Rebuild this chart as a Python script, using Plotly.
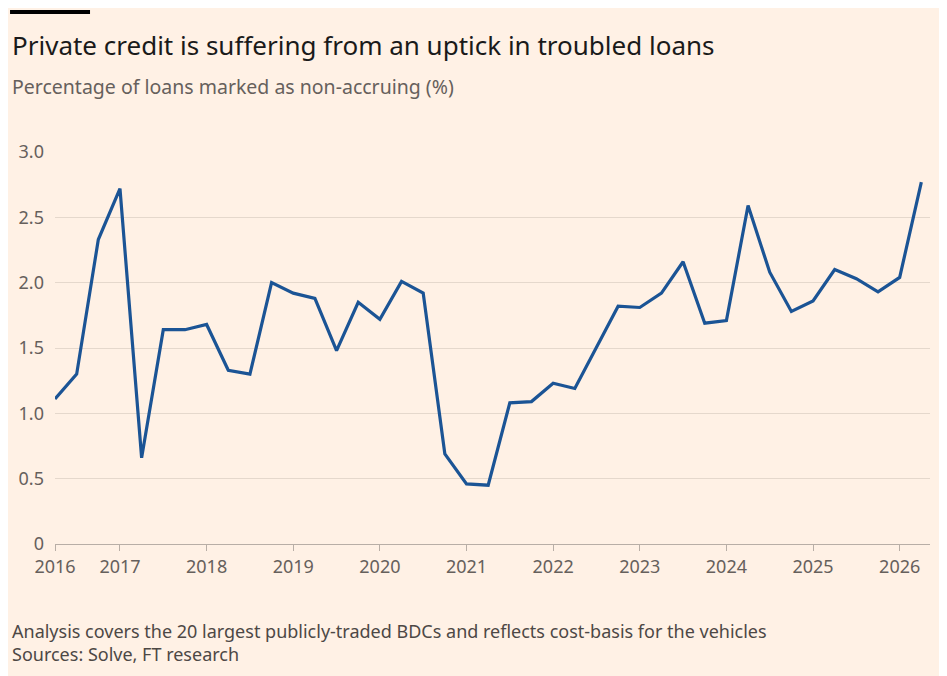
import plotly.graph_objects as go

# quarterly, starting 2016 Q2 (2016.25) through 2026 Q2
start = 2016.25
values = [1.11, 1.30, 2.33, 2.72, 0.66, 1.64, 1.64, 1.68, 1.33, 1.30, 2.00, 1.92,
          1.88, 1.48, 1.85, 1.72, 2.01, 1.92, 0.69, 0.46, 0.45, 1.08, 1.09, 1.23,
          1.19, 1.50, 1.82, 1.81, 1.92, 2.16, 1.69, 1.71, 2.59, 2.08, 1.78, 1.86,
          2.10, 2.03, 1.93, 2.04, 2.77]
x = [start + 0.25 * i for i in range(len(values))]

tick_vals = [2016.25] + list(range(2017, 2027))
tick_text = ["2016"] + [str(y) for y in range(2017, 2027)]
y_ticks = [0, 0.5, 1.0, 1.5, 2.0, 2.5, 3.0]
y_text = ["0", "0.5", "1.0", "1.5", "2.0", "2.5", "3.0"]

bg = "#FFF1E5"
font = "Noto Sans, Lato, sans-serif"
ph = 392.0  # plot height in px
left = -0.0514

fig = go.Figure()
fig.add_trace(go.Scatter(x=x, y=values, mode="lines",
                         line=dict(color="#1B5495", width=3.2), hoverinfo="x+y"))

fig.update_layout(
    width=947, height=676, paper_bgcolor=bg, plot_bgcolor=bg,
    margin=dict(l=47, r=25, t=144, b=140),
    showlegend=False,
    font=dict(family=font, color="#66605c", size=17),
    xaxis=dict(range=[2016.25, 2026.35], tickvals=tick_vals, ticktext=tick_text,
               showgrid=False, zeroline=False, showline=True, linecolor="#b8aea6",
               linewidth=1, ticks="outside", ticklen=6, tickcolor="#b8aea6",
               tickfont=dict(size=18, color="#66605c")),
    yaxis=dict(range=[0, 3.0], tickvals=y_ticks, ticktext=y_text,
               gridcolor="#e5d8cc", zeroline=False, ticks="", ticklabelstandoff=10,
               tickfont=dict(size=18, color="#66605c")),
    shapes=[dict(type="rect", xref="paper", yref="paper", x0=left, x1=left + 80 / 875,
                 y0=1.0 + 138 / ph, y1=1.0 + 142 / ph,
                 fillcolor="#000000", line=dict(width=0))],
    annotations=[
        dict(text="Private credit is suffering from an uptick in troubled loans",
             xref="paper", yref="paper", x=left, y=1.0 + 107 / ph, xanchor="left",
             yanchor="middle", showarrow=False, font=dict(size=26, color="#1a1a1a")),
        dict(text="Percentage of loans marked as non-accruing (%)",
             xref="paper", yref="paper", x=left, y=1.0 + 65 / ph, xanchor="left",
             yanchor="middle", showarrow=False, font=dict(size=19.5, color="#66605c")),
        dict(text="Analysis covers the 20 largest publicly-traded BDCs and reflects cost-basis for the vehicles<br>Sources: Solve, FT research",
             xref="paper", yref="paper", x=left, y=-73 / ph, xanchor="left",
             yanchor="top", align="left", showarrow=False,
             font=dict(size=18, color="#4d4845")),
    ],
)

fig.write_html("out.html")
